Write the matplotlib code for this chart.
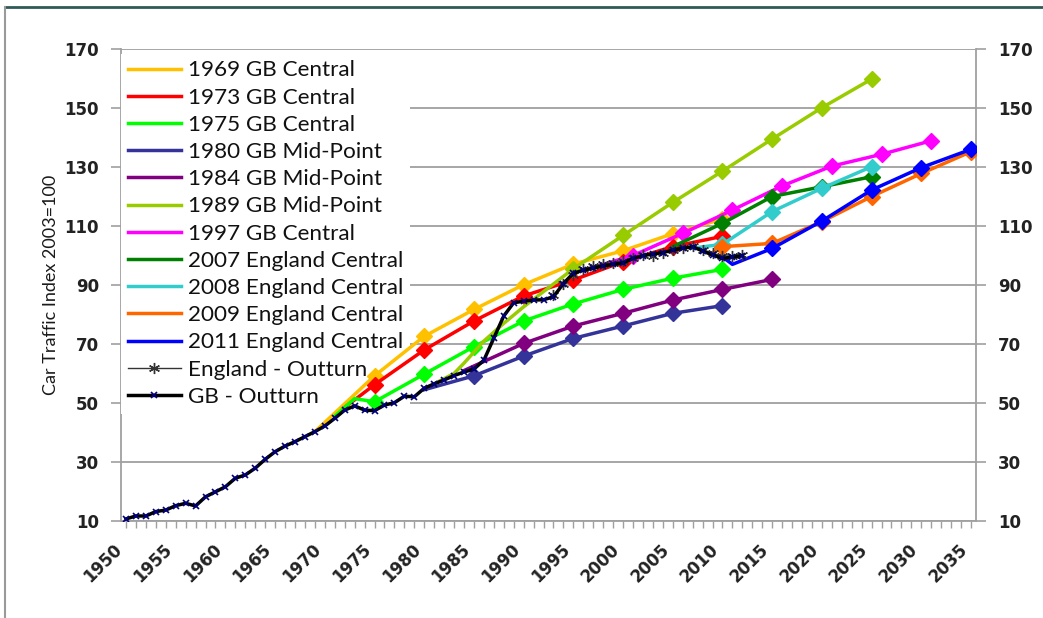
import matplotlib
matplotlib.use("Agg")
import matplotlib.pyplot as plt
from matplotlib.ticker import MultipleLocator
from matplotlib.lines import Line2D

# Forecast series (year, index value)
yrs_1969 = [1969, 1975, 1980, 1985, 1990, 1995, 2000, 2005, 2010]
val_1969 = [40.3, 59.2, 72.6, 81.7, 90.1, 97.1, 101.6, 107.4, 112.4]

yrs_1973 = [1972, 1975, 1980, 1985, 1990, 1995, 2000, 2005, 2010]
val_1973 = [48.5, 56.2, 68.0, 77.8, 86.3, 91.7, 97.9, 103.0, 106.5]

yrs_1975 = [1971, 1973, 1975, 1980, 1985, 1990, 1995, 2000, 2005, 2010]
val_1975 = [45.5, 51.5, 50.4, 59.8, 69.1, 77.8, 83.6, 88.5, 92.3, 95.3]

yrs_1980 = [1980, 1985, 1990, 1995, 2000, 2005, 2010]
val_1980 = [54.5, 59.2, 65.9, 71.9, 76.1, 80.4, 83.0]

yrs_1984 = [1984, 1990, 1995, 2000, 2005, 2010, 2015]
val_1984 = [61.0, 70.2, 76.1, 80.4, 84.9, 88.5, 91.9]

yrs_1989 = [1981, 1983, 1984, 1986, 1988, 1990, 1995, 2000, 2005, 2010, 2015, 2020, 2025]
val_1989 = [56.5, 60.0, 63.5, 71.0, 77.0, 82.6, 95.5, 106.8, 118.0, 128.6, 139.5, 150.1, 159.8]

yrs_1997 = [1997, 2001, 2006, 2011, 2016, 2021, 2026, 2031]
val_1997 = [96.0, 100.0, 107.5, 115.4, 123.6, 130.3, 134.3, 138.9]

yrs_2007 = [2005, 2010, 2015, 2020, 2025]
val_2007 = [103.0, 110.9, 120.0, 123.3, 126.7]

yrs_2008 = [2007, 2010, 2015, 2020, 2025]
val_2008 = [102.5, 103.8, 114.9, 122.8, 130.1]

yrs_2009 = [2009, 2010, 2015, 2020, 2025, 2030, 2035]
val_2009 = [101.0, 103.0, 104.1, 111.5, 120.0, 127.8, 135.2]

yrs_2011 = [2010, 2011, 2015, 2020, 2025, 2030, 2035]
val_2011 = [99.5, 97.0, 102.4, 111.7, 122.2, 129.8, 136.0]

# Outturn
yrs_gb = list(range(1950, 2013))
val_gb = [10.7, 11.7, 11.7, 13.2, 13.7, 15.2, 16.0, 15.1, 18.2, 19.9,
          21.6, 24.5, 25.6, 27.9, 30.9, 33.5, 35.4, 36.9, 38.6, 40.3,
          42.2, 44.8, 47.6, 49.0, 47.6, 47.4, 49.3, 50.1, 52.3, 52.1,
          55.0, 56.5, 57.8, 59.3, 60.5, 61.5, 64.5, 72.0, 79.5, 84.0,
          84.5, 84.9, 85.0, 86.0, 90.5, 94.0, 95.0, 95.7, 96.5, 97.0,
          97.5, 99.0, 100.0, 100.5, 101.0, 101.8, 102.5, 103.0, 101.5, 100.2,
          99.0, 99.5, 100.0]

yrs_eng = list(range(1993, 2013))
val_eng = [86.5, 90.5, 93.5, 95.5, 96.3, 97.0, 97.5, 98.0, 99.3, 100.2,
           100.0, 101.0, 102.0, 102.6, 103.2, 102.0, 100.8, 99.8, 99.9, 100.3]

y_ticks = [10, 30, 50, 70, 90, 110, 130, 150, 170]

forecasts = [
    ("1969 GB Central", yrs_1969, val_1969, "#FFC000", 1),
    ("1973 GB Central", yrs_1973, val_1973, "#FF0000", 1),
    ("1975 GB Central", yrs_1975, val_1975, "#00FF00", 2),
    ("1980 GB Mid-Point", yrs_1980, val_1980, "#333399", 1),
    ("1984 GB Mid-Point", yrs_1984, val_1984, "#800080", 1),
    ("1989 GB Mid-Point", yrs_1989, val_1989, "#99CC00", 6),
    ("1997 GB Central", yrs_1997, val_1997, "#FF00FF", 1),
    ("2007 England Central", yrs_2007, val_2007, "#008000", 1),
    ("2008 England Central", yrs_2008, val_2008, "#33CCCC", 1),
    ("2009 England Central", yrs_2009, val_2009, "#FF6600", 1),
    ("2011 England Central", yrs_2011, val_2011, "#0000FF", 2),
]

fig = plt.figure(figsize=(10.43, 6.18), dpi=100)
ax = fig.add_axes([121 / 1043, 1 - 521 / 618, (976 - 121) / 1043, (521 - 49) / 618])

for label, yrs, vals, col, first in forecasts:
    ax.plot(yrs, vals, color=col, linewidth=2.5, marker="D", markersize=8.5,
            markevery=slice(first, None), label=label, zorder=3)

ax.plot(yrs_eng, val_eng, color="#333333", linewidth=1.0, marker=(6, 2, 0),
        markersize=8, markeredgewidth=1.0, label="England - Outturn", zorder=4)
ax.plot(yrs_gb, val_gb, color="black", linewidth=2.5, marker="x",
        markersize=4, markeredgecolor="#000080", markeredgewidth=1.2,
        label="GB - Outturn", zorder=5)

ax.set_xlim(1949.5, 2035.5)
ax.set_ylim(10, 170)
ax.set_yticks(y_ticks)
ax.xaxis.set_major_locator(MultipleLocator(5))
ax.xaxis.set_minor_locator(MultipleLocator(1))

ax.grid(axis="y", color="#A6A6A6", linewidth=1.4, zorder=0)
ax.set_axisbelow(True)
for side in ["left", "right", "bottom"]:
    ax.spines[side].set_color("#A0A0A0")
    ax.spines[side].set_linewidth(1.3)
ax.spines["top"].set_visible(False)

ax.tick_params(axis="y", which="both", left=True, right=True, labelleft=True,
               labelright=True, length=7, width=1.2, color="#A0A0A0", pad=9,
               labelsize=12)
ax.tick_params(axis="x", which="both", length=5, width=1.0, color="#A0A0A0", pad=9)
for t in ax.yaxis.get_majorticklabels():
    t.set_fontweight("bold")
    t.set_color("#222222")
plt.setp(ax.get_xticklabels(), rotation=45, ha="right", fontsize=12,
         fontweight="bold", color="#222222")

ax.set_ylabel("Car Traffic Index 2003=100", fontsize=13, family="Lato",
              color="#1a1a1a", labelpad=4)

leg = ax.legend(loc="upper left", bbox_to_anchor=(-0.013, 1.014), frameon=True,
                fancybox=False, prop={"family": "Lato", "size": 16.2},
                handlelength=2.35, handletextpad=0.3, labelspacing=0.32,
                borderpad=0.3, numpoints=1)
leg.get_frame().set_facecolor("white")
leg.get_frame().set_edgecolor("none")
leg.get_frame().set_alpha(1)
leg.set_zorder(2.5)  # hides the gridlines but not the forecast lines
for h in leg.legend_handles[:len(forecasts)]:
    h.set_marker("")
for t in leg.get_texts():
    t.set_color("#111111")

# outer border of the original slide
fig.add_artist(Line2D([5 / 1043, 1], [1 - 7 / 618, 1 - 7 / 618], color="#2F5A58", linewidth=2))
fig.add_artist(Line2D([5 / 1043, 5 / 1043], [0, 1 - 7 / 618], color="#9A9A9A", linewidth=1.5))

fig.savefig("out.png", dpi=100)
